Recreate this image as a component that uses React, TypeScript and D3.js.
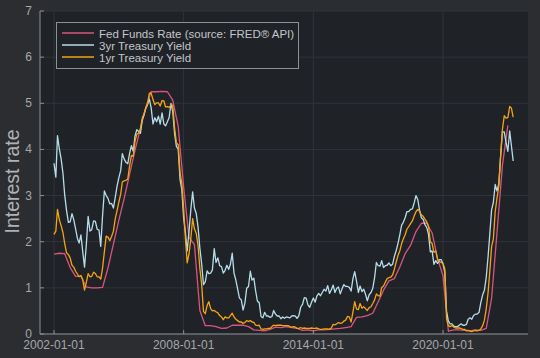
import React from "react";
import * as d3 from "d3";

const width = 540;
const height = 358;
const plot = { left: 40, right: 528, top: 11, bottom: 334 };

// quarterly effective fed funds rate, from 2002 Q1
const fedFunds = [
  1.73, 1.75, 1.74, 1.44, 1.25, 1.25, 1.02, 1.0, 1.0, 1.01, 1.43, 1.95,
  2.47, 2.94, 3.46, 3.98, 4.46, 4.91, 5.25, 5.25, 5.26, 5.25, 5.07, 4.5,
  3.18, 2.09, 1.94, 0.51, 0.18, 0.18, 0.16, 0.12, 0.13, 0.19, 0.19, 0.19,
  0.16, 0.09, 0.08, 0.07, 0.1, 0.15, 0.14, 0.16, 0.14, 0.12, 0.08, 0.09,
  0.07, 0.09, 0.09, 0.1, 0.11, 0.12, 0.14, 0.16, 0.36, 0.37, 0.4, 0.45,
  0.7, 0.95, 1.15, 1.2, 1.45, 1.74, 1.92, 2.22, 2.4, 2.4, 2.19, 1.64,
  1.26, 0.06, 0.09, 0.09, 0.08, 0.07, 0.09, 0.08, 0.12, 0.77, 2.19, 3.65,
  4.52,
];

// monthly 3yr treasury yield, from 2002-01
const treasury3 = [
  3.7, 3.4, 4.3, 4.01, 3.8, 3.49, 3.01, 2.68, 2.42, 2.43, 2.61, 2.48,
  2.28, 2.07, 1.97, 2.15, 1.79, 1.45, 1.93, 2.55, 2.23, 2.26, 2.45, 2.44,
  2.27, 2.25, 1.9, 2.57, 3.1, 3.0, 2.94, 2.82, 2.83, 2.73, 2.96, 3.2,
  3.39, 3.54, 3.91, 3.79, 3.72, 3.69, 3.91, 4.08, 3.96, 4.29, 4.43, 4.39,
  4.35, 4.64, 4.74, 4.89, 4.97, 5.09, 4.9, 4.55, 4.69, 4.6, 4.72, 4.55,
  4.79, 4.55, 4.51, 4.6, 4.69, 5.0, 4.82, 4.34, 4.06, 4.01, 3.35, 3.13,
  2.51, 2.19, 1.8, 2.23, 2.69, 3.08, 2.73, 2.61, 2.31, 1.86, 1.51, 1.07,
  1.13, 1.37, 1.31, 1.32, 1.39, 1.85, 1.55, 1.65, 1.48, 1.46, 1.32, 1.38,
  1.49, 1.4, 1.51, 1.75, 1.32, 1.17, 0.98, 0.78, 0.74, 0.52, 0.67, 0.99,
  1.03, 1.36, 1.17, 1.21, 0.94, 0.71, 0.68, 0.38, 0.35, 0.47, 0.39, 0.39,
  0.36, 0.38, 0.51, 0.43, 0.39, 0.39, 0.33, 0.37, 0.34, 0.37, 0.36, 0.35,
  0.39, 0.4, 0.39, 0.34, 0.4, 0.58, 0.64, 0.79, 0.78, 0.63, 0.58, 0.69,
  0.78, 0.69, 0.82, 0.88, 0.83, 0.9, 0.97, 0.93, 1.05, 0.88, 0.96, 1.06,
  0.9, 0.99, 1.02, 0.87, 0.98, 1.07, 1.03, 1.03, 1.01, 0.93, 1.2, 1.35,
  1.14, 0.9, 1.04, 0.92, 0.97, 0.86, 0.72, 0.85, 0.9, 0.99, 1.22, 1.55,
  1.48, 1.47, 1.59, 1.44, 1.48, 1.49, 1.54, 1.48, 1.51, 1.68, 1.81, 1.96,
  2.15, 2.36, 2.42, 2.52, 2.65, 2.65, 2.7, 2.71, 2.84, 3.0, 2.91, 2.68,
  2.52, 2.48, 2.37, 2.31, 2.16, 1.78, 1.8, 1.51, 1.59, 1.53, 1.61, 1.61,
  1.52, 1.33, 0.49, 0.28, 0.22, 0.22, 0.17, 0.16, 0.16, 0.19, 0.22, 0.19,
  0.19, 0.21, 0.32, 0.35, 0.32, 0.4, 0.43, 0.43, 0.47, 0.68, 0.85, 0.95,
  1.23, 1.68, 2.15, 2.69, 2.85, 3.24, 3.1, 3.25, 3.86, 4.38, 4.38, 4.16,
  3.96, 4.4, 4.09, 3.75,
];

// monthly 1yr treasury yield, from 2002-01
const treasury1 = [
  2.16, 2.23, 2.7, 2.48, 2.35, 2.2, 1.96, 1.76, 1.72, 1.65, 1.49, 1.45,
  1.36, 1.3, 1.24, 1.27, 1.18, 0.95, 1.12, 1.31, 1.24, 1.25, 1.34, 1.31,
  1.24, 1.24, 1.19, 1.43, 1.78, 2.12, 2.1, 2.02, 2.12, 2.23, 2.5, 2.67,
  2.86, 3.03, 3.3, 3.32, 3.33, 3.36, 3.64, 3.87, 3.85, 4.18, 4.33, 4.35,
  4.45, 4.68, 4.77, 4.9, 5.0, 5.22, 5.22, 5.08, 4.97, 5.01, 5.01, 4.94,
  5.06, 5.05, 4.92, 4.93, 4.91, 4.96, 4.96, 4.47, 4.14, 4.1, 3.5, 3.26,
  2.71, 2.05, 1.54, 1.74, 2.06, 2.5, 2.28, 2.18, 1.91, 1.42, 1.07, 0.49,
  0.44, 0.62, 0.7, 0.55, 0.5, 0.51, 0.48, 0.46, 0.4, 0.37, 0.31, 0.37,
  0.35, 0.35, 0.4, 0.45, 0.37, 0.32, 0.29, 0.26, 0.26, 0.23, 0.25, 0.29,
  0.27, 0.29, 0.26, 0.25, 0.19, 0.18, 0.19, 0.11, 0.1, 0.11, 0.11, 0.12,
  0.12, 0.16, 0.19, 0.18, 0.19, 0.19, 0.19, 0.18, 0.18, 0.18, 0.18, 0.16,
  0.15, 0.16, 0.15, 0.12, 0.12, 0.14, 0.12, 0.13, 0.12, 0.12, 0.12, 0.13,
  0.12, 0.12, 0.13, 0.11, 0.1, 0.1, 0.11, 0.11, 0.11, 0.1, 0.13, 0.21,
  0.2, 0.22, 0.25, 0.23, 0.24, 0.28, 0.3, 0.38, 0.37, 0.26, 0.48, 0.7,
  0.54, 0.53, 0.66, 0.56, 0.59, 0.55, 0.51, 0.57, 0.59, 0.66, 0.74, 0.87,
  0.83, 0.82, 1.01, 1.04, 1.12, 1.2, 1.22, 1.23, 1.28, 1.4, 1.56, 1.7,
  1.8, 1.96, 2.06, 2.15, 2.27, 2.33, 2.39, 2.45, 2.56, 2.65, 2.7, 2.66,
  2.58, 2.55, 2.49, 2.43, 2.34, 2.0, 1.96, 1.77, 1.8, 1.61, 1.57, 1.55,
  1.53, 1.41, 0.33, 0.18, 0.16, 0.18, 0.15, 0.13, 0.13, 0.13, 0.12, 0.1,
  0.1, 0.07, 0.08, 0.06, 0.05, 0.07, 0.08, 0.07, 0.08, 0.11, 0.18, 0.3,
  0.55, 0.9, 1.34, 1.89, 2.06, 2.65, 2.94, 3.2, 3.86, 4.43, 4.73, 4.68,
  4.69, 4.93, 4.9, 4.7,
];

const xTicks = ["2002-01-01", "2008-01-01", "2014-01-01", "2020-01-01"];
const yTicks = [0, 1, 2, 3, 4, 5, 6, 7];

const series = [
  { name: "Fed Funds Rate (source: FRED® API)", values: fedFunds, step: 3, color: "#d9557d" },
  { name: "3yr Treasury Yield", values: treasury3, step: 1, color: "#b6dde9" },
  { name: "1yr Treasury Yield", values: treasury1, step: 1, color: "#f5a514" },
];

const start = new Date(2002, 0, 1);
const parse = d3.timeParse("%Y-%m-%d");

const x = d3
  .scaleTime()
  .domain([parse(xTicks[0]) as Date, parse(xTicks[3]) as Date])
  .range([54, 443]);
const y = d3.scaleLinear().domain([0, 7]).range([plot.bottom, plot.top]);

const font = "Liberation Sans, Arial, sans-serif";
const axisColor = "#8d9095";

export default function App() {
  const line = (values: number[], step: number) =>
    d3
      .line<number>()
      .x((_, i) => x(d3.timeMonth.offset(start, i * step)))
      .y((d) => y(d))(values) || "";

  return (
    <div style={{ position: "absolute", left: 0, top: 0 }}>
      <svg width={width} height={height} style={{ display: "block" }}>
        <rect width={width} height={height} fill="#2b2d31" />
        <rect
          x={plot.left}
          y={plot.top}
          width={plot.right - plot.left}
          height={plot.bottom - plot.top}
          fill="#1f2227"
        />
        {/* grid */}
        {yTicks.map((t) => (
          <line key={"gy" + t} x1={plot.left} x2={plot.right} y1={y(t)} y2={y(t)} stroke="#30343a" strokeWidth={1} />
        ))}
        {xTicks.map((t) => (
          <line key={"gx" + t} x1={x(parse(t) as Date)} x2={x(parse(t) as Date)} y1={plot.top} y2={plot.bottom} stroke="#30343a" strokeWidth={1} />
        ))}
        {/* series */}
        {series.map((s) => (
          <path key={s.name} d={line(s.values, s.step)} fill="none" stroke={s.color} strokeWidth={1.3} strokeLinejoin="round" />
        ))}
        {/* axes */}
        <line x1={plot.left} x2={plot.left} y1={plot.top} y2={plot.bottom} stroke={axisColor} strokeWidth={1} />
        <line x1={plot.left} x2={plot.right} y1={plot.bottom} y2={plot.bottom} stroke={axisColor} strokeWidth={1} />
        {yTicks.map((t) => (
          <g key={"ty" + t}>
            <line x1={plot.left} x2={plot.left + 4} y1={y(t)} y2={y(t)} stroke={axisColor} />
            <text x={plot.left - 8} y={y(t)} textAnchor="end" dominantBaseline="central" fontFamily={font} fontSize={12} fill="#a6a8ac">
              {t}
            </text>
          </g>
        ))}
        {xTicks.map((t) => (
          <g key={"tx" + t}>
            <line x1={x(parse(t) as Date)} x2={x(parse(t) as Date)} y1={plot.bottom} y2={plot.bottom - 4} stroke={axisColor} />
            <text x={x(parse(t) as Date)} y={plot.bottom + 14.5} textAnchor="middle" fontFamily={font} fontSize={12} fill="#a6a8ac">
              {t}
            </text>
          </g>
        ))}
        <text
          transform={`translate(12,${(plot.top + plot.bottom) / 2 + 9}) rotate(-90)`}
          textAnchor="middle"
          dominantBaseline="central"
          fontFamily={font}
          fontSize={19.5}
          fill="#b0b2b6"
        >
          Interest rate
        </text>
        {/* legend */}
        <g transform="translate(56,22)">
          <rect x={0.5} y={0.5} width={242} height={46} fill="#1f2227" stroke={axisColor} strokeWidth={1} />
          {series.map((s, i) => (
            <g key={"lg" + s.name} transform={`translate(0,${11 + i * 12})`}>
              <line x1={6} x2={38} y1={0} y2={0} stroke={s.color} strokeWidth={1.5} />
              <text x={43} y={0.5} dominantBaseline="central" fontFamily={font} fontSize={11.5} fill="#c4c6c9">
                {s.name}
              </text>
            </g>
          ))}
        </g>
      </svg>
    </div>
  );
}
